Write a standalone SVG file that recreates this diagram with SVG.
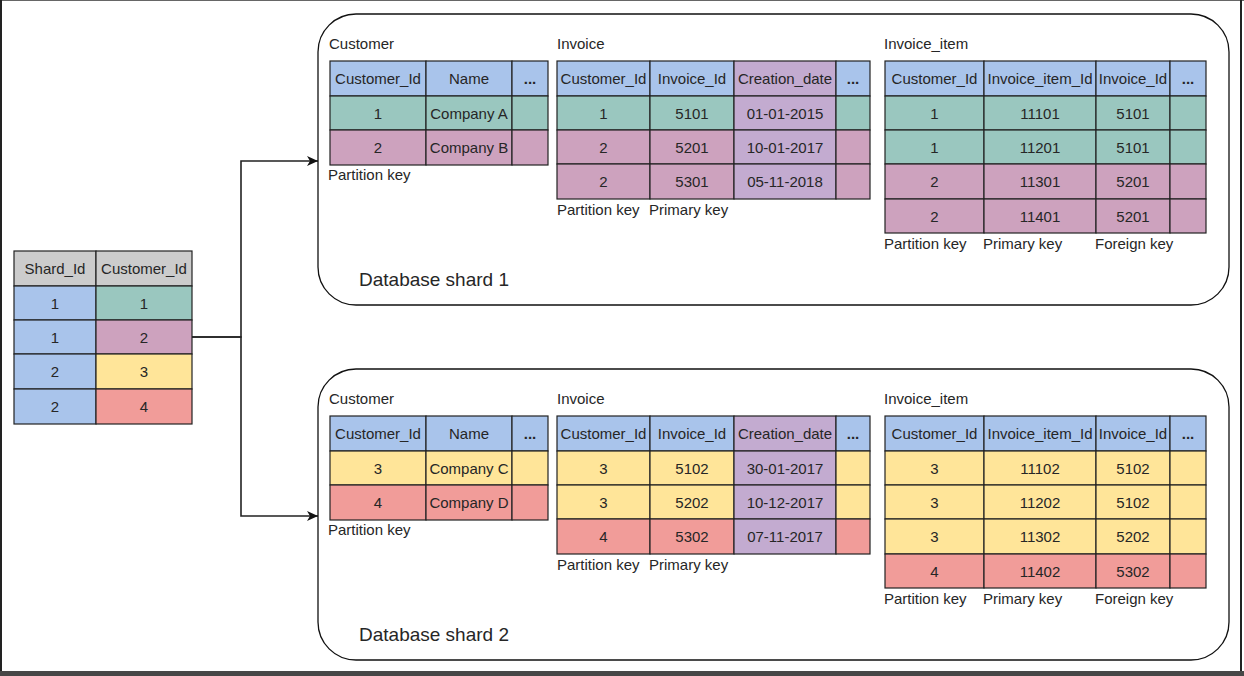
<svg xmlns="http://www.w3.org/2000/svg" width="1244" height="676" viewBox="0 0 1244 676">
<defs>
<style>
text{font-family:"Liberation Sans",Arial,sans-serif;font-size:15px;fill:#262626}
.c{text-anchor:middle;dominant-baseline:central}
.b{font-weight:bold}
.big{font-size:19px}
.cell{stroke:#222;stroke-width:1.2}
.hd{fill:#CCCCCC}
.bl{fill:#A9C4EB}
.tl{fill:#9AC7BF}
.pk{fill:#CDA2BE}
.pu{fill:#C3ABD0}
.ye{fill:#FFE599}
.rd{fill:#F19C99}
.shard{fill:#fff;stroke:#111;stroke-width:1.3}
.edge{fill:none;stroke:#222;stroke-width:1.6}
</style>
<marker id="arr" markerUnits="userSpaceOnUse" markerWidth="12" markerHeight="10" refX="11" refY="5" orient="auto">
<path d="M0,0 L11,5 L0,10 L3,5 z" fill="#111"/>
</marker>
</defs>
<rect x="0" y="0" width="1244" height="676" fill="#fff"/>
<g id="frame">
<line x1="0" y1="0.5" x2="1244" y2="0.5" stroke="#666" stroke-width="1"/>
<line x1="1" y1="0" x2="1" y2="672" stroke="#222" stroke-width="2"/>
<line x1="1241" y1="0" x2="1241" y2="672" stroke="#222" stroke-width="2"/>
<rect x="0" y="671" width="1244" height="5" fill="#474747"/>
</g>

<g id="shard-map">
<rect class="cell hd" x="14" y="251" width="82" height="35"/>
<rect class="cell hd" x="96" y="251" width="96" height="35"/>
<rect class="cell bl" x="14" y="286" width="82" height="34"/>
<rect class="cell tl" x="96" y="286" width="96" height="34"/>
<rect class="cell bl" x="14" y="320" width="82" height="34"/>
<rect class="cell pk" x="96" y="320" width="96" height="34"/>
<rect class="cell bl" x="14" y="354" width="82" height="35"/>
<rect class="cell ye" x="96" y="354" width="96" height="35"/>
<rect class="cell bl" x="14" y="389" width="82" height="35"/>
<rect class="cell rd" x="96" y="389" width="96" height="35"/>
<text class="c" x="55" y="268.5">Shard_Id</text>
<text class="c" x="144" y="268.5">Customer_Id</text>
<text class="c" x="55" y="303">1</text><text class="c" x="144" y="303">1</text>
<text class="c" x="55" y="337">1</text><text class="c" x="144" y="337">2</text>
<text class="c" x="55" y="371.5">2</text><text class="c" x="144" y="371.5">3</text>
<text class="c" x="55" y="406.5">2</text><text class="c" x="144" y="406.5">4</text>
</g>

<g id="connectors">
<path class="edge" d="M192,337 H241 V161 H318" marker-end="url(#arr)"/>
<path class="edge" d="M192,337 H241 V516 H318" marker-end="url(#arr)"/>
</g>

<g id="shard1">
<rect class="shard" x="318" y="14" width="911" height="291" rx="38" ry="38"/>
<text class="big" x="359" y="286">Database shard 1</text>

<g id="s1-customer">
<text x="329" y="49">Customer</text>
<rect class="cell bl" x="330" y="61" width="96" height="35"/>
<rect class="cell bl" x="426" y="61" width="86" height="35"/>
<rect class="cell bl" x="512" y="61" width="36" height="35"/>
<rect class="cell tl" x="330" y="96" width="96" height="34"/>
<rect class="cell tl" x="426" y="96" width="86" height="34"/>
<rect class="cell tl" x="512" y="96" width="36" height="34"/>
<rect class="cell pk" x="330" y="130" width="96" height="35"/>
<rect class="cell pk" x="426" y="130" width="86" height="35"/>
<rect class="cell pk" x="512" y="130" width="36" height="35"/>
<text class="c" x="378" y="78.5">Customer_Id</text>
<text class="c" x="469" y="78.5">Name</text>
<text class="c b" x="530" y="78.5">...</text>
<text class="c" x="378" y="113">1</text>
<text class="c" x="469" y="113">Company A</text>
<text class="c" x="378" y="147.5">2</text>
<text class="c" x="469" y="147.5">Company B</text>
<text x="328" y="180">Partition key</text>
</g>

<g id="s1-invoice">
<text x="557" y="49">Invoice</text>
<rect class="cell bl" x="557" y="61" width="93" height="35"/>
<rect class="cell bl" x="650" y="61" width="84" height="35"/>
<rect class="cell pu" x="734" y="61" width="102" height="35"/>
<rect class="cell bl" x="836" y="61" width="34" height="35"/>
<rect class="cell tl" x="557" y="96" width="93" height="34"/>
<rect class="cell tl" x="650" y="96" width="84" height="34"/>
<rect class="cell pu" x="734" y="96" width="102" height="34"/>
<rect class="cell tl" x="836" y="96" width="34" height="34"/>
<rect class="cell pk" x="557" y="130" width="93" height="34"/>
<rect class="cell pk" x="650" y="130" width="84" height="34"/>
<rect class="cell pu" x="734" y="130" width="102" height="34"/>
<rect class="cell pk" x="836" y="130" width="34" height="34"/>
<rect class="cell pk" x="557" y="164" width="93" height="35"/>
<rect class="cell pk" x="650" y="164" width="84" height="35"/>
<rect class="cell pu" x="734" y="164" width="102" height="35"/>
<rect class="cell pk" x="836" y="164" width="34" height="35"/>
<text class="c" x="603.5" y="78.5">Customer_Id</text>
<text class="c" x="692" y="78.5">Invoice_Id</text>
<text class="c" x="785" y="78.5">Creation_date</text>
<text class="c b" x="853" y="78.5">...</text>
<text class="c" x="603.5" y="113">1</text>
<text class="c" x="692" y="113">5101</text>
<text class="c" x="785" y="113">01-01-2015</text>
<text class="c" x="603.5" y="147">2</text>
<text class="c" x="692" y="147">5201</text>
<text class="c" x="785" y="147">10-01-2017</text>
<text class="c" x="603.5" y="181.5">2</text>
<text class="c" x="692" y="181.5">5301</text>
<text class="c" x="785" y="181.5">05-11-2018</text>
<text x="557" y="215">Partition key</text>
<text x="649" y="215">Primary key</text>
</g>

<g id="s1-invoice-item">
<text x="884" y="49">Invoice_item</text>
<rect class="cell bl" x="885" y="61" width="99" height="35"/>
<rect class="cell bl" x="984" y="61" width="112" height="35"/>
<rect class="cell bl" x="1096" y="61" width="74" height="35"/>
<rect class="cell bl" x="1170" y="61" width="36" height="35"/>
<rect class="cell tl" x="885" y="96" width="99" height="34"/>
<rect class="cell tl" x="984" y="96" width="112" height="34"/>
<rect class="cell tl" x="1096" y="96" width="74" height="34"/>
<rect class="cell tl" x="1170" y="96" width="36" height="34"/>
<rect class="cell tl" x="885" y="130" width="99" height="34"/>
<rect class="cell tl" x="984" y="130" width="112" height="34"/>
<rect class="cell tl" x="1096" y="130" width="74" height="34"/>
<rect class="cell tl" x="1170" y="130" width="36" height="34"/>
<rect class="cell pk" x="885" y="164" width="99" height="35"/>
<rect class="cell pk" x="984" y="164" width="112" height="35"/>
<rect class="cell pk" x="1096" y="164" width="74" height="35"/>
<rect class="cell pk" x="1170" y="164" width="36" height="35"/>
<rect class="cell pk" x="885" y="199" width="99" height="34"/>
<rect class="cell pk" x="984" y="199" width="112" height="34"/>
<rect class="cell pk" x="1096" y="199" width="74" height="34"/>
<rect class="cell pk" x="1170" y="199" width="36" height="34"/>
<text class="c" x="934.5" y="78.5">Customer_Id</text>
<text class="c" x="1040" y="78.5">Invoice_item_Id</text>
<text class="c" x="1133" y="78.5">Invoice_Id</text>
<text class="c b" x="1188" y="78.5">...</text>
<text class="c" x="934.5" y="113">1</text><text class="c" x="1040" y="113">11101</text><text class="c" x="1133" y="113">5101</text>
<text class="c" x="934.5" y="147">1</text><text class="c" x="1040" y="147">11201</text><text class="c" x="1133" y="147">5101</text>
<text class="c" x="934.5" y="181.5">2</text><text class="c" x="1040" y="181.5">11301</text><text class="c" x="1133" y="181.5">5201</text>
<text class="c" x="934.5" y="216">2</text><text class="c" x="1040" y="216">11401</text><text class="c" x="1133" y="216">5201</text>
<text x="884" y="249">Partition key</text>
<text x="983" y="249">Primary key</text>
<text x="1095" y="249">Foreign key</text>
</g>
</g>

<g id="shard2">
<rect class="shard" x="318" y="369" width="911" height="291" rx="38" ry="38"/>
<text class="big" x="359" y="641">Database shard 2</text>

<g id="s2-customer">
<text x="329" y="404">Customer</text>
<rect class="cell bl" x="330" y="416" width="96" height="35"/>
<rect class="cell bl" x="426" y="416" width="86" height="35"/>
<rect class="cell bl" x="512" y="416" width="36" height="35"/>
<rect class="cell ye" x="330" y="451" width="96" height="34"/>
<rect class="cell ye" x="426" y="451" width="86" height="34"/>
<rect class="cell ye" x="512" y="451" width="36" height="34"/>
<rect class="cell rd" x="330" y="485" width="96" height="35"/>
<rect class="cell rd" x="426" y="485" width="86" height="35"/>
<rect class="cell rd" x="512" y="485" width="36" height="35"/>
<text class="c" x="378" y="433.5">Customer_Id</text>
<text class="c" x="469" y="433.5">Name</text>
<text class="c b" x="530" y="433.5">...</text>
<text class="c" x="378" y="468">3</text>
<text class="c" x="469" y="468">Company C</text>
<text class="c" x="378" y="502.5">4</text>
<text class="c" x="469" y="502.5">Company D</text>
<text x="328" y="535">Partition key</text>
</g>

<g id="s2-invoice">
<text x="557" y="404">Invoice</text>
<rect class="cell bl" x="557" y="416" width="93" height="35"/>
<rect class="cell bl" x="650" y="416" width="84" height="35"/>
<rect class="cell pu" x="734" y="416" width="102" height="35"/>
<rect class="cell bl" x="836" y="416" width="34" height="35"/>
<rect class="cell ye" x="557" y="451" width="93" height="34"/>
<rect class="cell ye" x="650" y="451" width="84" height="34"/>
<rect class="cell pu" x="734" y="451" width="102" height="34"/>
<rect class="cell ye" x="836" y="451" width="34" height="34"/>
<rect class="cell ye" x="557" y="485" width="93" height="34"/>
<rect class="cell ye" x="650" y="485" width="84" height="34"/>
<rect class="cell pu" x="734" y="485" width="102" height="34"/>
<rect class="cell ye" x="836" y="485" width="34" height="34"/>
<rect class="cell rd" x="557" y="519" width="93" height="35"/>
<rect class="cell rd" x="650" y="519" width="84" height="35"/>
<rect class="cell pu" x="734" y="519" width="102" height="35"/>
<rect class="cell rd" x="836" y="519" width="34" height="35"/>
<text class="c" x="603.5" y="433.5">Customer_Id</text>
<text class="c" x="692" y="433.5">Invoice_Id</text>
<text class="c" x="785" y="433.5">Creation_date</text>
<text class="c b" x="853" y="433.5">...</text>
<text class="c" x="603.5" y="468">3</text>
<text class="c" x="692" y="468">5102</text>
<text class="c" x="785" y="468">30-01-2017</text>
<text class="c" x="603.5" y="502">3</text>
<text class="c" x="692" y="502">5202</text>
<text class="c" x="785" y="502">10-12-2017</text>
<text class="c" x="603.5" y="536.5">4</text>
<text class="c" x="692" y="536.5">5302</text>
<text class="c" x="785" y="536.5">07-11-2017</text>
<text x="557" y="570">Partition key</text>
<text x="649" y="570">Primary key</text>
</g>

<g id="s2-invoice-item">
<text x="884" y="404">Invoice_item</text>
<rect class="cell bl" x="885" y="416" width="99" height="35"/>
<rect class="cell bl" x="984" y="416" width="112" height="35"/>
<rect class="cell bl" x="1096" y="416" width="74" height="35"/>
<rect class="cell bl" x="1170" y="416" width="36" height="35"/>
<rect class="cell ye" x="885" y="451" width="99" height="34"/>
<rect class="cell ye" x="984" y="451" width="112" height="34"/>
<rect class="cell ye" x="1096" y="451" width="74" height="34"/>
<rect class="cell ye" x="1170" y="451" width="36" height="34"/>
<rect class="cell ye" x="885" y="485" width="99" height="34"/>
<rect class="cell ye" x="984" y="485" width="112" height="34"/>
<rect class="cell ye" x="1096" y="485" width="74" height="34"/>
<rect class="cell ye" x="1170" y="485" width="36" height="34"/>
<rect class="cell ye" x="885" y="519" width="99" height="35"/>
<rect class="cell ye" x="984" y="519" width="112" height="35"/>
<rect class="cell ye" x="1096" y="519" width="74" height="35"/>
<rect class="cell ye" x="1170" y="519" width="36" height="35"/>
<rect class="cell rd" x="885" y="554" width="99" height="34"/>
<rect class="cell rd" x="984" y="554" width="112" height="34"/>
<rect class="cell rd" x="1096" y="554" width="74" height="34"/>
<rect class="cell rd" x="1170" y="554" width="36" height="34"/>
<text class="c" x="934.5" y="433.5">Customer_Id</text>
<text class="c" x="1040" y="433.5">Invoice_item_Id</text>
<text class="c" x="1133" y="433.5">Invoice_Id</text>
<text class="c b" x="1188" y="433.5">...</text>
<text class="c" x="934.5" y="468">3</text><text class="c" x="1040" y="468">11102</text><text class="c" x="1133" y="468">5102</text>
<text class="c" x="934.5" y="502">3</text><text class="c" x="1040" y="502">11202</text><text class="c" x="1133" y="502">5102</text>
<text class="c" x="934.5" y="536.5">3</text><text class="c" x="1040" y="536.5">11302</text><text class="c" x="1133" y="536.5">5202</text>
<text class="c" x="934.5" y="571">4</text><text class="c" x="1040" y="571">11402</text><text class="c" x="1133" y="571">5302</text>
<text x="884" y="604">Partition key</text>
<text x="983" y="604">Primary key</text>
<text x="1095" y="604">Foreign key</text>
</g>
</g>
</svg>
